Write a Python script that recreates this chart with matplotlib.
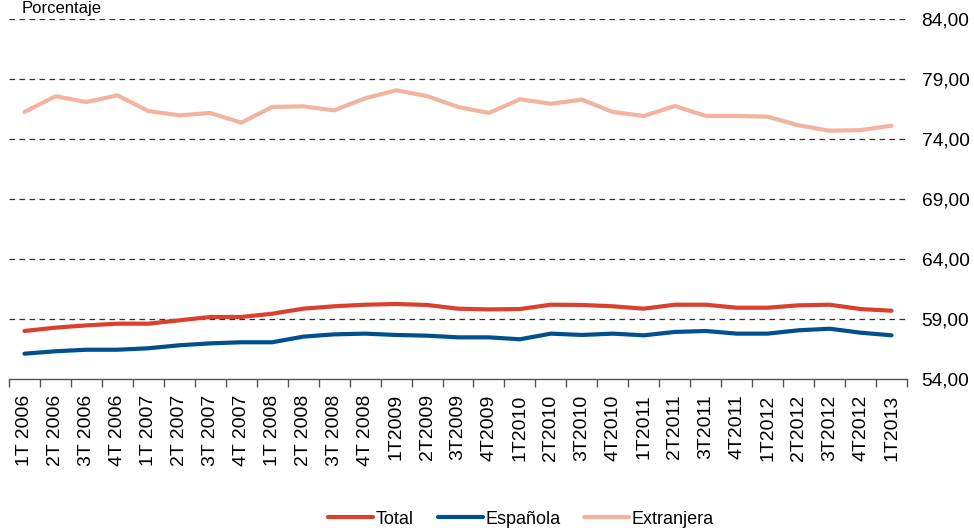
import matplotlib
matplotlib.use("Agg")
import matplotlib.pyplot as plt
from matplotlib.ticker import FixedLocator, FuncFormatter

categories = ["1T 2006", "2T 2006", "3T 2006", "4T 2006", "1T 2007", "2T 2007", "3T 2007", "4T 2007",
              "1T 2008", "2T 2008", "3T 2008", "4T 2008", "1T2009", "2T2009", "3T2009", "4T2009",
              "1T2010", "2T2010", "3T2010", "4T2010", "1T2011", "2T2011", "3T2011", "4T2011",
              "1T2012", "2T2012", "3T2012", "4T2012", "1T2013"]

total = [58.00, 58.28, 58.47, 58.61, 58.61, 58.89, 59.17, 59.17, 59.44, 59.86, 60.06, 60.19, 60.25,
         60.17, 59.86, 59.80, 59.83, 60.19, 60.17, 60.06, 59.86, 60.19, 60.19, 59.94, 59.94, 60.14,
         60.19, 59.83, 59.69]
espanola = [56.11, 56.31, 56.44, 56.44, 56.56, 56.81, 56.97, 57.06, 57.06, 57.53, 57.72, 57.78, 57.67,
            57.61, 57.47, 57.47, 57.31, 57.78, 57.67, 57.78, 57.64, 57.92, 58.00, 57.78, 57.78, 58.06,
            58.19, 57.86, 57.64]
extranjera = [76.25, 77.56, 77.08, 77.64, 76.33, 75.97, 76.17, 75.36, 76.67, 76.72, 76.39, 77.39, 78.06,
              77.58, 76.67, 76.17, 77.31, 76.94, 77.28, 76.25, 75.92, 76.75, 75.92, 75.92, 75.86, 75.14,
              74.69, 74.74, 75.11]

y_ticks = [54, 59, 64, 69, 74, 79, 84]

series_names = ["Total", "Española", "Extranjera"]
colors = ["#D9412E", "#00508F", "#F2B49E"]

plt.rcParams['font.family'] = ['Liberation Sans', 'DejaVu Sans']

fig = plt.figure(figsize=(9.74, 5.30), dpi=100)
ax = fig.add_axes([9/974, 1 - 379/530, 898/974, 360/530])

x = list(range(len(categories)))
for vals, name, c in zip([total, espanola, extranjera], series_names, colors):
    ax.plot(x, vals, color=c, lw=3.0, label=name, solid_capstyle='round', solid_joinstyle='round')

ax.set_xlim(-0.5, len(categories) - 0.5)
ax.set_ylim(y_ticks[0], y_ticks[-1])

ax.yaxis.tick_right()
ax.set_yticks(y_ticks)
ax.yaxis.set_major_formatter(FuncFormatter(lambda v, p: f"{v:.2f}".replace(".", ",")))
ax.tick_params(axis='y', length=0, labelsize=13.8, pad=10.5, colors='#000000')

ax.set_xticks(x)
ax.set_xticklabels(categories, rotation=90, fontsize=14)
ax.xaxis.set_minor_locator(FixedLocator([i - 0.5 for i in range(len(categories) + 1)]))
ax.tick_params(axis='x', which='major', length=0, pad=11)
ax.tick_params(axis='x', which='minor', length=6, width=1, color='#555555')

for v in y_ticks[1:]:
    ax.axhline(v, color='#333333', lw=0.9, ls=(0, (4.5, 3.5)), zorder=0)

for s in ['top', 'right', 'left']:
    ax.spines[s].set_visible(False)
ax.spines['bottom'].set_color('#555555')
ax.spines['bottom'].set_linewidth(1.0)

fig.text(22/974, 1 - 1/530, "Porcentaje", fontsize=12, ha='left', va='top')

leg = fig.legend(loc='center', bbox_to_anchor=(0.535, 1 - 519/530), ncol=3, frameon=False,
                 fontsize=13, handlelength=2.5, columnspacing=1.3, handletextpad=0.15)

fig.savefig("out.png", dpi=100)
